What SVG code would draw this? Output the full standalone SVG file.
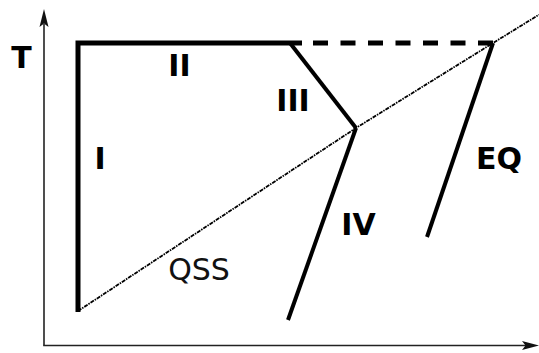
<svg xmlns="http://www.w3.org/2000/svg" width="539" height="353" viewBox="0 0 539 353">
<style>
.axis{stroke:#222;stroke-width:1.6;fill:none}
.thick{stroke:#000;stroke-width:5;fill:none;stroke-linecap:butt;stroke-linejoin:miter}
.med{stroke:#000;stroke-width:4;fill:none;stroke-linecap:butt}
.dash{stroke:#000;stroke-width:5;fill:none;stroke-dasharray:15 12.5}
.dd{stroke:#000;stroke-width:1.8;fill:none;stroke-dasharray:4 1 1.5 1}
.lbl{font-family:"DejaVu Sans",sans-serif;font-weight:bold;font-size:30px;fill:#000}
.qss{font-family:"DejaVu Sans",sans-serif;font-size:30px;fill:#111}
</style>
<rect width="539" height="353" fill="#fff"/>
<g id="axes">
<line class="axis" x1="44" y1="24" x2="44" y2="345.5"/>
<line class="axis" x1="43.2" y1="345.5" x2="526" y2="345.5"/>
<polygon points="44,9 48.5,27 44,23.5 39.5,27" fill="#111"/>
<polygon points="539,345.5 522,341 525.5,345.5 522,350" fill="#111"/>
</g>
<g id="connectors">
<polyline class="dd" points="78,311 356,128 493,43 539,14.7"/>
<polyline class="thick" points="78,312 78,43 302,43"/>
<line class="dash" x1="313" y1="43" x2="493" y2="43"/>
<line class="med" x1="290" y1="43" x2="356" y2="128"/>
<line class="med" x1="356" y1="128" x2="288" y2="320"/>
<line class="med" x1="493" y1="43" x2="427" y2="237"/>
</g>
<g id="label-T"><text class="lbl" x="21.5" y="68" text-anchor="middle">T</text></g>
<g id="label-I"><text class="lbl" x="100" y="169" text-anchor="middle">I</text></g>
<g id="label-II"><text class="lbl" x="179.5" y="76" text-anchor="middle">II</text></g>
<g id="label-III"><text class="lbl" x="293" y="111" text-anchor="middle">III</text></g>
<g id="label-IV"><text class="lbl" x="358.5" y="235" text-anchor="middle">IV</text></g>
<g id="label-EQ"><text class="lbl" x="499" y="169" text-anchor="middle">EQ</text></g>
<g id="label-QSS"><text class="qss" x="199" y="280" text-anchor="middle">QSS</text></g>
</svg>
